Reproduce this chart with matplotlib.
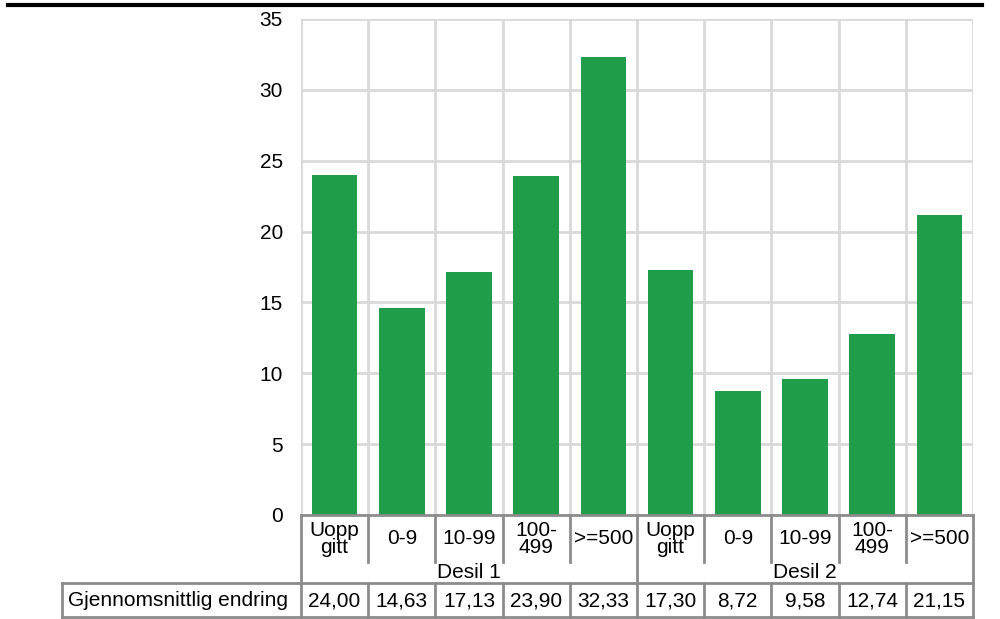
import matplotlib
matplotlib.use("Agg")
import matplotlib.pyplot as plt
from matplotlib.transforms import blended_transform_factory
from matplotlib.lines import Line2D

plt.rcParams['font.family'] = ['Liberation Sans', 'DejaVu Sans']

# Data
categories = ["Uopp\ngitt", "0-9", "10-99", "100-\n499", ">=500",
              "Uopp\ngitt", "0-9", "10-99", "100-\n499", ">=500"]
groups = ["Desil 1", "Desil 2"]
group_size = 5
values = [24.00, 14.63, 17.13, 23.90, 32.33, 17.30, 8.72, 9.58, 12.74, 21.15]
value_labels = ["24,00", "14,63", "17,13", "23,90", "32,33",
                "17,30", "8,72", "9,58", "12,74", "21,15"]
row_label = "Gjennomsnittlig endring"
yticks = [0, 5, 10, 15, 20, 25, 30, 35]

FS = 15
W, H = 1000, 619
fig = plt.figure(figsize=(W / 100, H / 100), dpi=100)
ax = fig.add_axes([301 / W, 1 - 515 / H, 672 / W, 496 / H])

n = len(values)
x = list(range(n))
ax.bar(x, values, width=0.68, color="#1f9d4b", zorder=3)

ax.set_xlim(-0.5, n - 0.5)
ax.set_ylim(0, 35)
ax.set_yticks(yticks)
ax.set_yticklabels([str(t) for t in yticks], fontsize=FS)
ax.tick_params(axis="y", length=0, pad=13)
ax.set_xticks([])

grid_c = "#d9d9d9"
for t in yticks[1:]:
    ax.axhline(t, color=grid_c, lw=2, zorder=1)
for b in range(n + 1):
    ax.axvline(b - 0.5, color=grid_c, lw=2, zorder=1)
for s in ax.spines.values():
    s.set_visible(False)

# Data table below the axes: x in data units, y in figure pixels (from top)
tr = blended_transform_factory(ax.transData, fig.transFigure)
def fy(py):
    return 1 - py / H

tbl_c = "#8c8c8c"
def hline(x0, x1, py, t=tr):
    fig.add_artist(Line2D([x0, x1], [fy(py), fy(py)], transform=t, color=tbl_c, lw=2))
def vline(xx, py0, py1, t=tr):
    fig.add_artist(Line2D([xx, xx], [fy(py0), fy(py1)], transform=t, color=tbl_c, lw=2))

left = -0.5
right = n - 0.5
hline(left, right, 515)
hline(left, right, 583)
hline(left, right, 617)
# label cell on the left, in pure figure coordinates
fig.add_artist(Line2D([62 / W, 301 / W], [fy(583), fy(583)], transform=fig.transFigure, color=tbl_c, lw=2))
fig.add_artist(Line2D([62 / W, 301 / W], [fy(617), fy(617)], transform=fig.transFigure, color=tbl_c, lw=2))
fig.add_artist(Line2D([62 / W, 62 / W], [fy(583), fy(617)], transform=fig.transFigure, color=tbl_c, lw=2))

for b in range(n + 1):
    xx = b - 0.5
    if b % group_size == 0:
        vline(xx, 515, 617)
    else:
        vline(xx, 515, 562)
        vline(xx, 583, 617)

for i, c in enumerate(categories):
    fig.text(i, fy(539), c, transform=tr, ha="center", va="center",
             fontsize=FS, linespacing=0.85)
    fig.text(i, fy(601), value_labels[i], transform=tr, ha="center",
             va="center", fontsize=FS)
for g, name in enumerate(groups):
    cx = g * group_size + (group_size - 1) / 2
    fig.text(cx, fy(572), name, transform=tr, ha="center", va="center", fontsize=FS)

fig.text(68 / W, fy(601), row_label, ha="left", va="center", fontsize=FS)

# Rule across the top
fig.add_artist(Line2D([8 / W, 982 / W], [fy(5), fy(5)], transform=fig.transFigure,
                      color="black", lw=3))

fig.savefig("out.png", dpi=100, facecolor="white")
